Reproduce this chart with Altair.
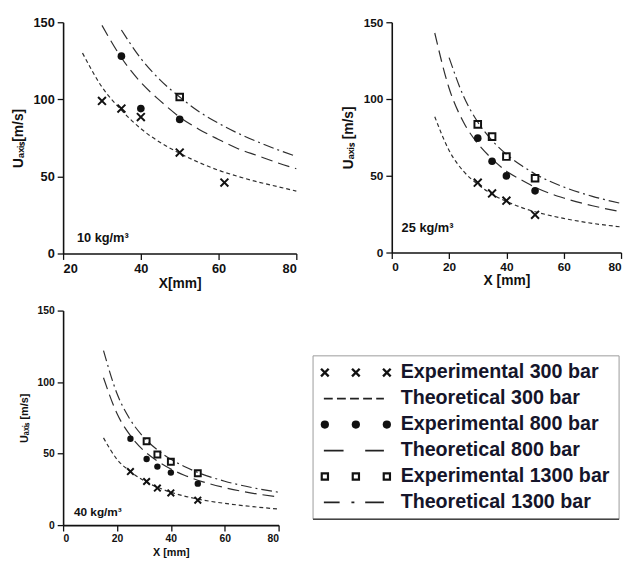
import altair as alt
import pandas as pd

FONT = "Liberation Sans"
INK = "#111111"
LINE = "#2e2e2e"

# ---------------- Panel A : 10 kg/m3 ----------------
a_exp300_x = [30, 35, 40, 50, 61.5]
a_exp300_y = [99, 94, 88.5, 65.5, 46]
a_exp800_x = [35, 40, 50]
a_exp800_y = [128, 94, 87]
a_exp1300_x = [50]
a_exp1300_y = [101.5]
a_th300_x = [25, 30, 35, 40, 45, 50, 55, 60, 65, 70, 75, 80]
a_th300_y = [130, 108, 93, 81, 72, 65, 59, 54, 50, 46.5, 43.5, 40.5]
a_th800_x = [30, 35, 40, 45, 50, 55, 60, 65, 70, 75, 80]
a_th800_y = [148, 127, 111, 99, 88.5, 80.5, 74, 68, 63.5, 59, 55]
a_th1300_x = [35, 40, 45, 50, 55, 60, 65, 70, 75, 80]
a_th1300_y = [145, 126.5, 112.5, 101.5, 92, 84.5, 78, 72.5, 67.5, 63]

# ---------------- Panel B : 25 kg/m3 ----------------
b_exp300_x = [30, 35, 40, 50]
b_exp300_y = [45.5, 38.5, 33.8, 24.6]
b_exp800_x = [30, 35, 40, 50]
b_exp800_y = [74.5, 59.5, 49.9, 40.2]
b_exp1300_x = [30, 35, 40, 50]
b_exp1300_y = [83.5, 75.5, 62.5, 48.4]
b_th300_x = [15, 20, 25, 30, 35, 40, 45, 50, 60, 70, 80]
b_th300_y = [88.5, 66.5, 53, 44.5, 38, 33.3, 29.5, 26.6, 22.2, 19, 16.7]
b_th800_x = [15, 20, 25, 30, 35, 40, 45, 50, 60, 70, 80]
b_th800_y = [143, 107, 85, 71, 61, 53, 47.5, 42.5, 35.5, 30.5, 26.5]
b_th1300_x = [20, 25, 30, 35, 40, 45, 50, 60, 70, 80]
b_th1300_y = [127, 102, 85, 73, 64, 57, 51.2, 42.7, 36.6, 32]

# ---------------- Panel C : 40 kg/m3 ----------------
c_exp300_x = [25, 31, 35, 40, 50]
c_exp300_y = [37.4, 30.5, 25.9, 22.5, 17.4]
c_exp800_x = [25, 31, 35, 40, 50]
c_exp800_y = [60.4, 46.2, 40.9, 36.7, 29.0]
c_exp1300_x = [31, 35, 40, 50]
c_exp1300_y = [58.6, 49.4, 44.3, 36.3]
c_th300_x = [15, 20, 25, 30, 35, 40, 45, 50, 60, 70, 80]
c_th300_y = [61, 46, 37.5, 31, 26.5, 23, 20.3, 18.2, 15.2, 13, 11.2]
c_th800_x = [15, 20, 25, 30, 35, 40, 45, 50, 60, 70, 80]
c_th800_y = [103, 78, 62.5, 52, 44.8, 39.2, 34.9, 31.4, 26.2, 22.4, 19.7]
c_th1300_x = [15, 20, 25, 30, 35, 40, 45, 50, 60, 70, 80]
c_th1300_y = [122, 92, 73.5, 61.3, 52.6, 46, 41, 36.8, 30.7, 26.3, 23]

# legend
leg_labels = ["Experimental 300 bar", "Theoretical 300 bar", "Experimental 800 bar",
              "Theoretical 800 bar", "Experimental 1300 bar", "Theoretical 1300 bar"]
leg_kind = ["x", "dash", "circle", "longdash", "square", "dashdot"]

CROSS = "M-1,-1L1,1M-1,1L1,-1"
DASH = {"300": [4, 3], "800": [12, 6], "1300": [11, 4, 2, 4]}


def df(xs, ys):
    return pd.DataFrame({"x": xs, "y": ys})


def panel(d, xdom, w, h, tfs, afs, xtitle, ytitle, note, nfs, note_dx, note_dy,
          msz, title=None):
    common = dict(labelFont=FONT, labelFontWeight="bold", labelFontSize=tfs, labelColor=INK,
                  titleFont=FONT, titleFontWeight="bold", titleFontSize=afs, titleColor=INK,
                  domainColor=INK, domainWidth=1.6, tickColor=INK, tickWidth=1.3, tickSize=6,
                  grid=False, tickCount=4)
    xaxis = alt.Axis(title=xtitle, labelPadding=3, titlePadding=2, **common)
    yaxis = alt.Axis(title=ytitle, labelPadding=3, titlePadding=8, **common)
    xs = alt.Scale(domain=xdom, nice=False, zero=False)
    ys = alt.Scale(domain=[0, 150], nice=False)

    layers = []
    for i, key in enumerate(["300", "800", "1300"]):
        xv, yv = d["th" + key]
        if i == 0:
            enc = dict(x=alt.X("x:Q", scale=xs, axis=xaxis), y=alt.Y("y:Q", scale=ys, axis=yaxis))
        else:
            enc = dict(x=alt.X("x:Q", scale=xs), y=alt.Y("y:Q", scale=ys))
        layers.append(
            alt.Chart(df(xv, yv)).mark_line(color=LINE, strokeWidth=1.2, strokeDash=DASH[key],
                                            interpolate="monotone").encode(**enc)
        )
    xv, yv = d["exp300"]
    layers.append(alt.Chart(df(xv, yv)).mark_point(shape=CROSS, filled=False, color=INK,
                                                   strokeWidth=2, size=msz[0], opacity=1)
                  .encode(x="x:Q", y="y:Q"))
    xv, yv = d["exp800"]
    layers.append(alt.Chart(df(xv, yv)).mark_point(shape="circle", filled=True, color=INK,
                                                   size=msz[1], opacity=1)
                  .encode(x="x:Q", y="y:Q"))
    xv, yv = d["exp1300"]
    layers.append(alt.Chart(df(xv, yv)).mark_point(shape="square", filled=False, color=INK,
                                                   strokeWidth=2, size=msz[2], opacity=1)
                  .encode(x="x:Q", y="y:Q"))
    layers.append(alt.Chart(pd.DataFrame({"t": [note]})).mark_text(
        font=FONT, fontWeight="bold", fontSize=nfs, color=INK, align="left", baseline="alphabetic")
        .encode(text="t:N", x=alt.value(note_dx), y=alt.value(h - note_dy)))
    props = dict(width=w, height=h)
    if title is not None:
        props["title"] = title
    return alt.layer(*layers).properties(**props)


A = dict(exp300=(a_exp300_x, a_exp300_y), exp800=(a_exp800_x, a_exp800_y),
         exp1300=(a_exp1300_x, a_exp1300_y), th300=(a_th300_x, a_th300_y),
         th800=(a_th800_x, a_th800_y), th1300=(a_th1300_x, a_th1300_y))
B = dict(exp300=(b_exp300_x, b_exp300_y), exp800=(b_exp800_x, b_exp800_y),
         exp1300=(b_exp1300_x, b_exp1300_y), th300=(b_th300_x, b_th300_y),
         th800=(b_th800_x, b_th800_y), th1300=(b_th1300_x, b_th1300_y))
C = dict(exp300=(c_exp300_x, c_exp300_y), exp800=(c_exp800_x, c_exp800_y),
         exp1300=(c_exp1300_x, c_exp1300_y), th300=(c_th300_x, c_th300_y),
         th800=(c_th800_x, c_th800_y), th1300=(c_th1300_x, c_th1300_y))

pA = panel(A, [20, 80], 237, 235, 13, 14, "X[mm]", "U\u2090\u2093\u1d62\u209b[m/s]",
           "10 kg/m\u00b3", 13, 14, 12, (64, 60, 45),
           title=alt.TitleParams(" ", fontSize=1, offset=3))
pB = panel(B, [0, 80], 233, 234, 12, 14, "X [mm]", "U\u2090\u2093\u1d62\u209b [m/s]",
           "25 kg/m\u00b3", 13, 10, 21, (64, 60, 45))
pC = panel(C, [0, 80], 219, 218, 10.5, 11, "X [mm]", "U\u2090\u2093\u1d62\u209b [m/s]",
           "40 kg/m\u00b3", 12, 11, 9, (45, 42, 36))

# ---------------- Legend panel (origin aligned under panel B) ----------------
LW, LH = 231, 166
LOFF = -80
rows = list(range(len(leg_labels)))
leg_df = pd.DataFrame({"row": rows, "label": leg_labels, "kind": leg_kind})
slots = [0, 1, 2]
mk_rows = []
for r, k in zip(rows, leg_kind):
    if k in ("x", "circle", "square"):
        for s in slots:
            mk_rows.append({"row": r, "slot": s, "kind": k})
mk_df = pd.DataFrame(mk_rows)

ly = alt.Y("row:Q", scale=alt.Scale(domain=[-0.644, 5.644], reverse=True, nice=False, zero=False),
           axis=None)
lx = alt.X("slot:Q", scale=alt.Scale(domain=[0, 2], range=[-68, -5], nice=False, zero=False), axis=None)

frame = alt.Chart(pd.DataFrame({"a": [0]})).mark_rect(fill="white", stroke="#9a9a9a", strokeWidth=1).encode(
    x=alt.value(LOFF), x2=alt.value(LW), y=alt.value(0), y2=alt.value(LH))
bottom = alt.Chart(pd.DataFrame({"a": [0]})).mark_rule(color="#444", strokeWidth=1.6).encode(
    x=alt.value(LOFF), x2=alt.value(LW), y=alt.value(LH))
texts = alt.Chart(leg_df).mark_text(font=FONT, fontWeight="bold", fontSize=20, color="#15152a",
                                    align="left", baseline="middle").encode(
    x=alt.value(9), y=ly, text="label:N")
m_x = alt.Chart(mk_df[mk_df.kind == "x"]).mark_point(shape=CROSS, filled=False, color=INK,
                                                      strokeWidth=2.4, size=60, opacity=1).encode(x=lx, y=ly)
m_c = alt.Chart(mk_df[mk_df.kind == "circle"]).mark_point(shape="circle", filled=True, color=INK,
                                                           size=70, opacity=1).encode(x=lx, y=ly)
m_s = alt.Chart(mk_df[mk_df.kind == "square"]).mark_point(shape="square", filled=False, color=INK,
                                                           strokeWidth=2.2, size=40, opacity=1).encode(x=lx, y=ly)
lines = []
for kind, dash in [("dash", [9, 4.3]), ("longdash", [20, 22]), ("dashdot", [16, 12, 3, 11, 19, 1])]:
    lines.append(alt.Chart(leg_df[leg_df.kind == kind]).mark_rule(color="#222", strokeWidth=1.8,
                                                                  strokeDash=dash).encode(
        x=alt.value(-69), x2=alt.value(-8), y=ly))

legend = alt.layer(frame, bottom, texts, m_x, m_c, m_s, *lines).properties(width=LW, height=LH)

col1 = alt.vconcat(pA, pC, spacing=15)
col2 = alt.vconcat(pB, legend, spacing=68)
chart = alt.hconcat(col1, col2, spacing=13).properties(
    padding={"left": 3, "top": 0, "right": 0, "bottom": 0}
).configure_view(stroke=None).configure_title(font=FONT)

chart.save("out.html", embed_options={"renderer": "svg", "actions": False})
